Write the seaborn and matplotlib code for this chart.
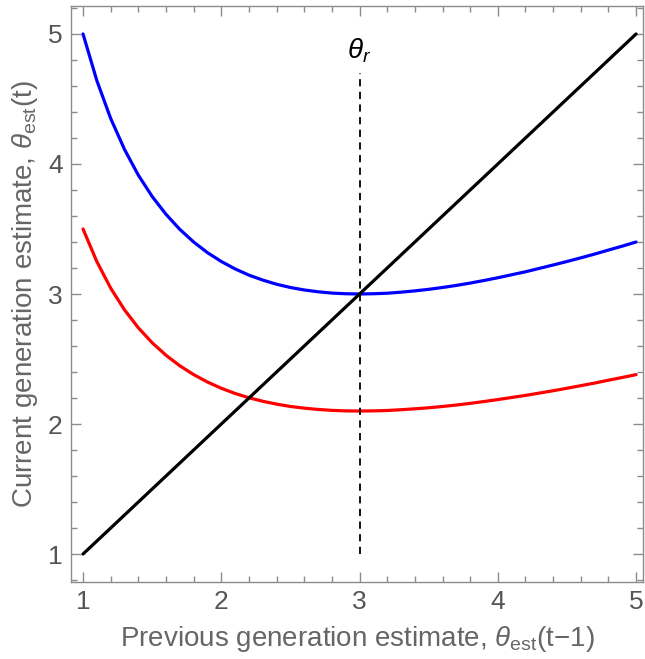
import matplotlib
matplotlib.use("Agg")
import matplotlib.pyplot as plt
import seaborn as sns
import pandas as pd
from matplotlib.ticker import MultipleLocator

x_vals = [1.0, 1.1, 1.2, 1.3, 1.4, 1.5, 1.6, 1.7, 1.8, 1.9, 2.0, 2.1, 2.2, 2.3, 2.4, 2.5,
          2.6, 2.7, 2.8, 2.9, 3.0, 3.1, 3.2, 3.3, 3.4, 3.5, 3.6, 3.7, 3.8, 3.9, 4.0,
          4.1, 4.2, 4.3, 4.4, 4.5, 4.6, 4.7, 4.8, 4.9, 5.0]
blue_vals = [5.000, 4.641, 4.350, 4.112, 3.914, 3.750, 3.613, 3.497, 3.400, 3.318, 3.250,
             3.193, 3.145, 3.107, 3.075, 3.050, 3.031, 3.017, 3.007, 3.002, 3.000,
             3.002, 3.006, 3.014, 3.024, 3.036, 3.050, 3.066, 3.084, 3.104, 3.125,
             3.148, 3.171, 3.197, 3.223, 3.250, 3.278, 3.307, 3.338, 3.368, 3.400]
red_vals = [3.500, 3.249, 3.045, 2.878, 2.740, 2.625, 2.529, 2.448, 2.380, 2.323, 2.275,
            2.235, 2.202, 2.175, 2.153, 2.135, 2.122, 2.112, 2.105, 2.101, 2.100,
            2.101, 2.104, 2.110, 2.117, 2.125, 2.135, 2.146, 2.159, 2.173, 2.188,
            2.204, 2.220, 2.238, 2.256, 2.275, 2.295, 2.315, 2.337, 2.358, 2.380]
diag_x = [1.0, 5.0]
diag_y = [1.0, 5.0]
theta_r = 3.0
dash_y = [1.0, 4.7]
x_ticks = [1, 2, 3, 4, 5]
y_ticks = [1, 2, 3, 4, 5]

sns.set_style("ticks")
plt.rcParams['font.family'] = ['Liberation Sans', 'DejaVu Sans']
plt.rcParams['mathtext.fontset'] = 'custom'
plt.rcParams['mathtext.rm'] = 'Liberation Sans'
plt.rcParams['mathtext.it'] = 'Liberation Sans:italic'

df = pd.DataFrame({'x': x_vals, 'blue': blue_vals, 'red': red_vals})

fig = plt.figure(figsize=(6.45, 6.59), dpi=100)
ax = fig.add_axes([71/645, 1 - 582/659, (643-71)/645, (582-6)/659])

sns.lineplot(data=df, x='x', y='blue', color='#0000ff', lw=2.3, ax=ax)
sns.lineplot(data=df, x='x', y='red', color='#ff0000', lw=2.3, ax=ax)
sns.lineplot(x=diag_x, y=diag_y, color='black', lw=2.3, ax=ax)
ax.plot([theta_r, theta_r], dash_y, color='black', lw=1.3, ls=(0, (4, 3)))
ax.text(theta_r, 4.76, r'$\theta_r$', ha='center', va='bottom', fontsize=20, color='black')

ax.set_xlim(0.913, 5.05)
ax.set_ylim(0.785, 5.215)
ax.set_xticks(x_ticks)
ax.set_yticks(y_ticks)
ax.xaxis.set_minor_locator(MultipleLocator(0.2))
ax.yaxis.set_minor_locator(MultipleLocator(0.2))
gray = '#8c8c8c'
for s in ax.spines.values():
    s.set_color(gray)
    s.set_linewidth(1.0)
    s.set_visible(True)
ax.tick_params(which='both', direction='in', top=True, right=True, color=gray,
               labelcolor='#555555', labelsize=19, width=1.0)
ax.tick_params(which='major', length=7, pad=6)
ax.tick_params(which='minor', length=4)
ax.set_xlabel(r'Previous generation estimate, $\theta_{\rm est}$(t$-$1)', fontsize=20,
              color='#666666', labelpad=7)
ax.set_ylabel(r'Current generation estimate, $\theta_{\rm est}$(t)', fontsize=20,
              color='#666666', labelpad=6)

fig.savefig('out.png', dpi=100)
